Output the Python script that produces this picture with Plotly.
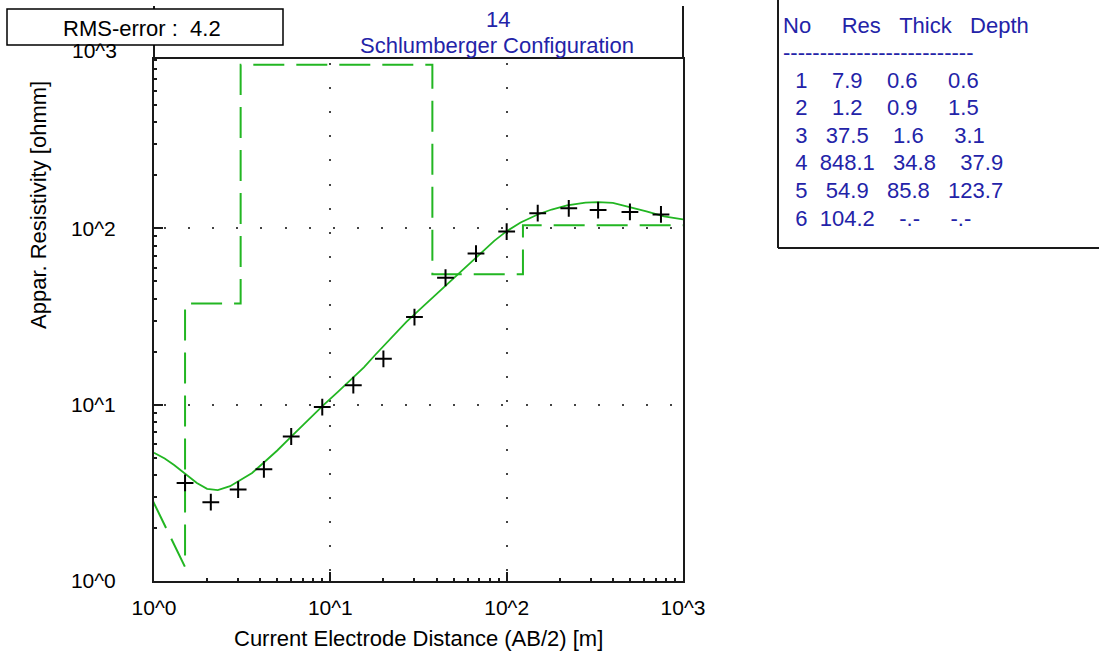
import math
import plotly.graph_objects as go

# ---- layered-earth model (inversion result) ----
layer_no = [1, 2, 3, 4, 5, 6]
layer_res = [7.9, 1.2, 37.5, 848.1, 54.9, 104.2]
layer_thick = [0.6, 0.9, 1.6, 34.8, 85.8, None]
layer_depth = [0.6, 1.5, 3.1, 37.9, 123.7, None]

# ---- field sounding: AB/2 spacing [m] and apparent resistivity [ohmm] ----
ab2 = [1.5, 2.1, 3.0, 4.2, 6.0, 9.0, 13.5, 20, 30, 45, 67, 100, 150, 225, 330, 500, 750]
rho_obs = [3.6, 2.8, 3.3, 4.3, 6.6, 9.7, 12.9, 18.2, 31.4, 52.5, 72, 96, 122, 130, 127, 124, 120]

# ---- forward-modelled response of the layered model ----
curve_ab2 = [1.0, 1.15, 1.3, 1.5, 1.75, 2.0, 2.3, 2.7, 3.1, 3.6, 4.2, 5.0, 6.0, 7.0, 8.0,
             9.2, 11, 13, 15.5, 18, 22, 27, 33, 40, 48, 58, 70, 85, 100, 120, 150, 180,
             220, 280, 330, 400, 500, 620, 780, 1000]
curve_rho = [5.34, 4.95, 4.55, 4.05, 3.6, 3.33, 3.28, 3.45, 3.74, 4.1, 4.7, 5.5, 6.6, 7.7, 8.8,
             10.0, 11.8, 13.8, 16.3, 19.2, 23.8, 29.5, 35.5, 42.5, 50.5, 60, 71, 85, 96.5, 108, 120, 128,
             135, 140, 141, 139.5, 132, 125, 117, 112.5]

rms_error = 4.2
sounding_id = 14
config_name = "Schlumberger Configuration"

x_tick_vals = [1, 10, 100, 1000]
x_tick_text = ["10^0", "10^1", "10^2", "10^3"]
y_tick_vals = [1, 10, 100]
y_tick_text = ["10^0", "10^1", "10^2"]
y_top_label = "10^3"

# ---- figure geometry ----
W, H = 1099, 653
ML, MR, MT, MB = 154, 416, 59, 72
PW, PH = W - ML - MR, H - MT - MB
X_MIN, X_MAX = 1, 1000
Y_TOP_LOG = 2.961


def px_x(px):
    return (px - ML) / PW


def px_y(py):
    return (H - MB - py) / PH


def log_to_paper_y(logv):
    return logv / Y_TOP_LOG


FONT = "Liberation Sans, Arial, sans-serif"
GREEN = "#22b622"
BLUE = "#2323a8"
INK = "#1a1a1a"
NB = "\u00a0"

minor_vals = [m * 10 ** d for d in range(0, 3) for m in range(2, 10)]

# step path of the model: diagonal into layer 2, then vertical/horizontal steps
step_x = [layer_depth[0]]
step_y = [layer_res[0]]
for i in range(1, 5):
    step_x += [layer_depth[i], layer_depth[i]]
    step_y += [layer_res[i], layer_res[i + 1]]
step_x.append(X_MAX)
step_y.append(layer_res[5])

fig = go.Figure()
fig.add_trace(go.Scatter(x=step_x, y=step_y, mode="lines",
                         line=dict(color=GREEN, width=2, dash="31px,12px"),
                         hoverinfo="skip", showlegend=False))
fig.add_trace(go.Scatter(x=curve_ab2, y=curve_rho, mode="lines",
                         line=dict(color=GREEN, width=1.8),
                         showlegend=False))
fig.add_trace(go.Scatter(x=ab2, y=rho_obs, mode="markers",
                         marker=dict(symbol="cross-thin", size=12,
                                     line=dict(color="black", width=2)),
                         showlegend=False))

axis_common = dict(
    type="log", showline=True, linecolor=INK, linewidth=2, mirror=True,
    ticks="inside", ticklen=9, tickwidth=2, tickcolor=INK,
    tickfont=dict(family=FONT, size=21, color="black"),
    showgrid=True, gridcolor="#444", gridwidth=2, zeroline=False,
    minor=dict(tickmode="array", tickvals=minor_vals, ticks="inside", ticklen=3,
               tickwidth=2, tickcolor=INK, showgrid=False),
)

fig.update_layout(
    width=W, height=H,
    margin=dict(l=ML, r=MR, t=MT, b=MB, pad=0),
    paper_bgcolor="white", plot_bgcolor="white",
    font=dict(family=FONT, size=22, color="black"),
    xaxis=dict(axis_common, range=[math.log10(X_MIN), math.log10(X_MAX)],
               tickmode="array", tickvals=x_tick_vals, ticktext=x_tick_text,
               griddash="0px,4px,2px,18.1px", ticklabelstandoff=7),
    yaxis=dict(axis_common, range=[0, Y_TOP_LOG],
               tickmode="array", tickvals=y_tick_vals, ticktext=y_tick_text,
               griddash="0px,10px,2px,12.1px", ticklabelstandoff=32),
    yaxis2=dict(type="log", overlaying="y", side="right", anchor="x",
                range=[0, Y_TOP_LOG], tickmode="array", tickvals=[10, 100],
                ticks="inside", ticklen=11, tickwidth=2, tickcolor=INK,
                showticklabels=False, showgrid=False, showline=False, zeroline=False),
    xaxis2=dict(type="log", overlaying="x", side="top", anchor="y",
                range=[math.log10(X_MIN), math.log10(X_MAX)], tickmode="array",
                tickvals=[10, 100], ticks="inside", ticklen=4, tickwidth=2,
                tickcolor=INK, showticklabels=False, showgrid=False,
                showline=False, zeroline=False),
    showlegend=False,
)

shapes = []
# frame sides continuing up past the top border
for xp in (0, 1):
    shapes.append(dict(type="line", xref="paper", yref="paper", x0=xp, x1=xp,
                       y0=1, y1=px_y(6), line=dict(color=INK, width=2)))
# RMS box
shapes.append(dict(type="rect", xref="paper", yref="paper",
                   x0=px_x(7), x1=px_x(283), y0=px_y(45), y1=px_y(9),
                   line=dict(color="black", width=1.5), fillcolor="white"))
# model table border
shapes.append(dict(type="line", xref="paper", yref="paper", x0=px_x(778), x1=px_x(778),
                   y0=px_y(248), y1=px_y(-2), line=dict(color=INK, width=2)))
shapes.append(dict(type="line", xref="paper", yref="paper", x0=px_x(778), x1=px_x(1101),
                   y0=px_y(248), y1=px_y(248), line=dict(color=INK, width=2)))
fig.update_layout(shapes=shapes)

ann = []


def text(x, y, s, size=22, color="black", xanchor="center", angle=0):
    ann.append(dict(x=x, y=y, xref="paper", yref="paper", text=s, showarrow=False,
                    xanchor=xanchor, yanchor="middle", textangle=angle,
                    font=dict(family=FONT, size=size, color=color)))


text(px_x(142), px_y(29), f"RMS-error :{NB}{NB}{rms_error:.1f}")
text(px_x(498), px_y(19), str(sounding_id), color=BLUE)
text(px_x(497), px_y(45), config_name, color=BLUE)
# the 10^3 decade lies just above the plot border; its label is placed there
text(px_x(119), log_to_paper_y(3) + 0.004, y_top_label, size=21, xanchor="right")
text(px_x(418), px_y(638), "Current Electrode Distance (AB/2) [m]")
text(px_x(38), px_y(205), "Appar. Resistivity [ohmm]", angle=-90)

# model table
TX = px_x(781)
header = f"No{NB * 5}Res{NB * 3}Thick{NB * 3}Depth"
text(TX, px_y(26), header, color=BLUE, xanchor="left")
text(TX, px_y(52), "-" * 26, color=BLUE, xanchor="left")


def cell(v, w):
    s = "-.-" if v is None else f"{v:.1f}"
    return s.rjust(w)


for i, (n, r, t, d) in enumerate(zip(layer_no, layer_res, layer_thick, layer_depth)):
    row = f"{n:>3d}" + cell(r, 7) + cell(t, 7) + cell(d, 8)
    text(TX, px_y(80 + i * 27.6), row.replace(" ", NB), color=BLUE, xanchor="left")

fig.update_layout(annotations=ann)
fig.write_html("out.html")
